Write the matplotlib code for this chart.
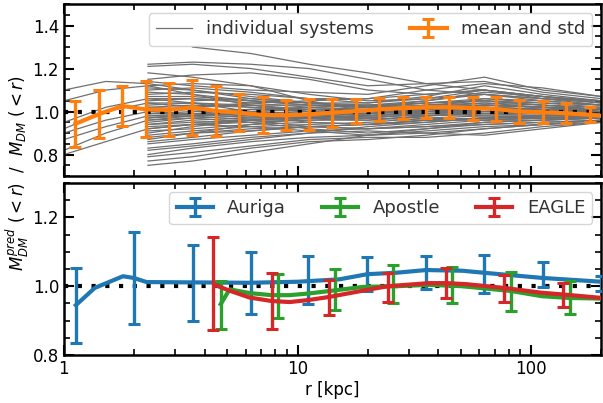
import numpy as np
import matplotlib
matplotlib.use('Agg')
import matplotlib.pyplot as plt

plt.rcParams['font.size'] = 12

nan = np.nan

# radii (kpc) where the individual profiles are sampled
r_grid = [1.0, 1.51, 2.29, 3.55, 6.31, 11.2, 20.0, 35.5, 63.1, 112.0, 200.0]

# individual systems, M_pred / M_true
systems = [
    [1.10, 1.14, 1.13, 1.10, 1.06, 1.04, 1.02, 1.05, 1.08, 1.05, 1.03],
    [1.05, 1.10, 1.12, 1.08, 1.03, 1.00, 0.99, 1.01, 1.03, 1.02, 1.00],
    [0.95, 1.02, 1.06, 1.04, 1.00, 0.97, 0.96, 0.98, 1.00, 0.99, 0.98],
    [0.92, 1.00, 1.04, 1.02, 0.98, 0.95, 0.94, 0.96, 0.97, 0.97, 0.97],
    [0.90, 0.96, 1.00, 0.99, 0.97, 0.98, 1.00, 1.03, 1.05, 1.03, 1.01],
    [0.87, 0.93, 0.98, 0.98, 0.96, 0.93, 0.92, 0.93, 0.94, 0.95, 0.96],
    [0.82, 0.90, 0.96, 0.97, 0.95, 0.92, 0.90, 0.92, 0.95, 0.96, 0.97],
    [0.80, 0.86, 0.92, 0.94, 0.93, 0.91, 0.89, 0.90, 0.92, 0.94, 0.96],
    [nan, nan, 1.22, 1.23, 1.22, 1.20, 1.15, 1.10, 1.08, 1.06, 1.04],
    [nan, nan, 1.21, 1.22, 1.20, 1.16, 1.12, 1.13, 1.14, 1.09, 1.06],
    [nan, nan, 1.15, 1.17, 1.18, 1.15, 1.10, 1.08, 1.10, 1.07, 1.04],
    [nan, nan, 1.14, 1.12, 1.10, 1.09, 1.08, 1.12, 1.16, 1.10, 1.07],
    [nan, nan, 1.12, 1.13, 1.12, 1.08, 1.05, 1.06, 1.08, 1.06, 1.05],
    [nan, nan, 1.10, 1.11, 1.09, 1.06, 1.04, 1.07, 1.12, 1.08, 1.05],
    [nan, nan, 1.08, 1.09, 1.08, 1.06, 1.06, 1.10, 1.13, 1.11, 1.07],
    [nan, nan, 1.07, 1.07, 1.05, 1.03, 1.02, 1.04, 1.06, 1.04, 1.02],
    [nan, nan, 1.05, 1.06, 1.05, 1.04, 1.03, 1.05, 1.09, 1.07, 1.04],
    [nan, nan, 1.04, 1.04, 1.02, 1.00, 0.99, 1.01, 1.03, 1.02, 1.01],
    [nan, nan, 1.02, 1.03, 1.02, 1.01, 1.02, 1.04, 1.05, 1.03, 1.02],
    [nan, nan, 1.00, 1.01, 1.00, 0.99, 0.98, 1.00, 1.02, 1.01, 1.00],
    [nan, nan, 0.99, 1.00, 1.01, 1.02, 1.03, 1.02, 1.01, 1.00, 0.99],
    [nan, nan, 0.97, 0.98, 0.99, 0.98, 0.97, 0.99, 1.00, 1.00, 0.99],
    [nan, nan, 0.95, 0.97, 0.98, 0.99, 1.00, 1.02, 1.04, 1.03, 1.01],
    [nan, nan, 0.94, 0.95, 0.96, 0.96, 0.96, 0.98, 0.99, 0.98, 0.98],
    [nan, nan, 0.92, 0.94, 0.96, 0.97, 0.98, 0.97, 0.96, 0.97, 0.98],
    [nan, nan, 0.91, 0.92, 0.94, 0.95, 0.94, 0.95, 0.97, 0.98, 0.99],
    [nan, nan, 0.89, 0.91, 0.93, 0.94, 0.95, 0.97, 0.98, 0.97, 0.97],
    [nan, nan, 0.88, 0.90, 0.92, 0.93, 0.92, 0.93, 0.95, 0.96, 0.97],
    [nan, nan, 0.86, 0.88, 0.91, 0.93, 0.94, 0.96, 0.97, 0.98, 0.98],
    [nan, nan, 0.85, 0.87, 0.89, 0.91, 0.92, 0.94, 0.96, 0.96, 0.97],
    [nan, nan, 0.83, 0.85, 0.88, 0.90, 0.91, 0.90, 0.89, 0.92, 0.95],
    [nan, nan, 0.82, 0.84, 0.87, 0.90, 0.93, 0.95, 0.97, 0.97, 0.97],
    [nan, nan, 0.80, 0.83, 0.86, 0.88, 0.89, 0.91, 0.93, 0.94, 0.96],
    [nan, nan, 0.79, 0.81, 0.84, 0.87, 0.88, 0.88, 0.90, 0.93, 0.95],
    [nan, nan, 0.77, 0.79, 0.83, 0.86, 0.87, 0.89, 0.92, 0.94, 0.95],
    [nan, nan, 0.75, 0.77, 0.81, 0.85, 0.89, 0.92, 0.94, 0.95, 0.96],
    [nan, nan, 1.18, 1.16, 1.12, 1.05, 1.00, 1.00, 1.03, 1.02, 1.01],
    [nan, nan, 1.01, 1.02, 1.04, 1.05, 1.06, 1.08, 1.10, 1.07, 1.05],
    [nan, nan, 0.98, 0.99, 0.99, 1.00, 1.01, 1.03, 1.03, 1.02, 1.01],
    [nan, nan, 0.93, 0.94, 0.95, 0.96, 0.97, 0.99, 1.01, 1.00, 1.00],
    [nan, nan, 1.03, 1.04, 1.03, 1.01, 1.00, 1.01, 1.02, 1.01, 1.00],
    [nan, nan, 1.00, 1.02, 1.03, 1.03, 1.02, 1.03, 1.04, 1.02, 1.00],
    [nan, nan, 0.96, 0.98, 1.00, 1.01, 1.01, 1.02, 1.03, 1.02, 1.01],
    [nan, nan, 0.97, 0.99, 1.01, 1.00, 0.99, 0.98, 0.99, 0.99, 0.99],
    [nan, nan, 1.06, 1.06, 1.04, 1.02, 1.01, 1.02, 1.06, 1.05, 1.03],
    [nan, nan, 0.90, 0.93, 0.96, 0.98, 0.99, 1.00, 1.01, 1.01, 1.00],
    [nan, nan, 0.87, 0.90, 0.94, 0.97, 0.98, 0.99, 0.98, 0.98, 0.99],
    [nan, nan, 1.09, 1.08, 1.05, 1.03, 1.03, 1.04, 1.05, 1.04, 1.03],
    [nan, nan, 1.11, 1.10, 1.07, 1.04, 1.04, 1.06, 1.10, 1.06, 1.03],
    [nan, nan, 0.94, 0.96, 0.97, 0.97, 0.97, 0.96, 0.96, 0.97, 0.98],
    [nan, nan, 0.99, 0.99, 0.98, 0.97, 0.98, 1.00, 1.00, 0.99, 0.98],
    [nan, nan, 1.02, 1.01, 0.99, 0.98, 0.99, 1.01, 1.02, 1.01, 1.00],
    [nan, nan, nan, 1.30, 1.27, 1.22, 1.18, 1.13, 1.10, 1.07, 1.05],
    [nan, nan, nan, 1.05, 1.06, 1.04, 1.02, 1.00, 0.99, 0.99, 0.99],
    [nan, nan, nan, 0.90, 0.91, 0.93, 0.94, 0.96, 0.97, 0.98, 0.98],
    [nan, nan, nan, 1.00, 1.01, 1.01, 1.00, 0.99, 1.00, 1.01, 1.01],
    [nan, nan, nan, 0.95, 0.96, 0.98, 0.99, 1.01, 1.02, 1.01, 1.00],
]

# mean and std over systems
r_mean = [1.12, 1.41, 1.78, 2.24, 2.82, 3.55, 4.47, 5.62, 7.08, 8.91, 11.2,
          14.1, 17.8, 22.4, 28.2, 35.5, 44.7, 56.2, 70.8, 89.1, 112, 141, 178]
mean = [0.943, 0.988, 1.026, 1.010, 1.008, 1.019, 1.003, 0.995, 0.984, 0.983,
        0.987, 0.995, 1.002, 1.010, 1.016, 1.020, 1.020, 1.016, 1.012, 1.000,
        0.997, 0.992, 0.985]
std = [0.108, 0.110, 0.095, 0.130, 0.123, 0.126, 0.118, 0.087, 0.085, 0.071,
       0.072, 0.065, 0.057, 0.053, 0.050, 0.050, 0.050, 0.053, 0.054, 0.055,
       0.051, 0.046, 0.035]
r_mean_line = r_mean + [200]
mean_line = mean + [0.980]

# simulations, median profiles
r_au = [1.125, 1.355, 1.79, 1.99, 2.26, 3.80, 6.24, 10.0, 15.1, 19.9, 26.3,
        35.5, 50.7, 63.0, 112, 200]
y_au = [0.945, 0.995, 1.029, 1.024, 1.012, 1.011, 1.010, 1.013, 1.020, 1.035,
        1.039, 1.047, 1.045, 1.039, 1.024, 1.013]
r_ap = [4.69, 5.12, 6.24, 7.74, 9.25, 11.2, 13.7, 19.0, 26.5, 36.6, 50.7,
        82.2, 111, 145, 200]
y_ap = [0.948, 0.991, 0.980, 0.974, 0.974, 0.979, 0.986, 0.998, 1.000, 1.004,
        1.000, 0.986, 0.971, 0.966, 0.964]
r_ea = [4.42, 5.12, 6.24, 7.74, 9.25, 11.2, 13.7, 19.0, 24.3, 36.6, 43.4,
        52.7, 76.7, 111, 137, 200]
y_ea = [1.004, 0.987, 0.967, 0.957, 0.954, 0.960, 0.969, 0.987, 1.000, 1.009,
        1.009, 1.006, 0.995, 0.981, 0.976, 0.966]

# error bars of the simulations
re_au = [1.125, 1.99, 3.56, 6.30, 11.1, 19.9, 35.6, 63.0, 112, 200]
me_au = [0.945, 1.024, 1.010, 1.010, 1.017, 1.035, 1.040, 1.036, 1.034, 1.008]
se_au = [0.109, 0.134, 0.110, 0.090, 0.070, 0.050, 0.049, 0.056, 0.036, 0.022]
re_ap = [4.69, 8.22, 14.5, 25.7, 45.9, 82.2, 147]
me_ap = [0.945, 0.972, 0.990, 1.006, 1.003, 0.985, 0.967]
se_ap = [0.070, 0.064, 0.060, 0.056, 0.053, 0.057, 0.049]
re_ea = [4.34, 7.74, 13.7, 24.3, 43.4, 76.7, 137]
me_ea = [1.008, 0.957, 0.967, 0.996, 1.010, 0.993, 0.975]
se_ea = [0.135, 0.082, 0.052, 0.042, 0.044, 0.039, 0.035]

fig, (ax1, ax2) = plt.subplots(2, 1, figsize=(6.03, 4.03), dpi=100, sharex=True)
fig.subplots_adjust(left=0.106, right=0.9975, top=0.99, bottom=0.119, hspace=0.04)

ebkw = dict(capsize=4, capthick=2.2, elinewidth=2.4)

# top panel
for i, s in enumerate(systems):
    ax1.plot(r_grid, s, color='#707070', lw=0.9,
             label='individual systems' if i == 0 else None)
ax1.plot([1, 200], [1, 1], color='k', lw=3, dashes=(1, 2.3), zorder=4)
ax1.plot(r_mean_line, mean_line, color='C1', lw=3, zorder=5)
ax1.errorbar(r_mean, mean, yerr=std, fmt='none', ecolor='C1', zorder=5, **ebkw)
ax1.errorbar([nan], [nan], yerr=[nan], color='C1', lw=3, label='mean and std', **ebkw)
ax1.set_ylim(0.7, 1.5)
ax1.set_yticks([0.8, 1.0, 1.2, 1.4])
ax1.legend(loc='upper right', ncol=2, labelcolor='#333333', fontsize=13)

# bottom panel
ax2.plot([1, 200], [1, 1], color='k', lw=3, dashes=(1, 2.3), zorder=4)
for r, y, re, me, se, c, lab in [(r_au, y_au, re_au, me_au, se_au, 'C0', 'Auriga'),
                                 (r_ap, y_ap, re_ap, me_ap, se_ap, 'C2', 'Apostle'),
                                 (r_ea, y_ea, re_ea, me_ea, se_ea, 'C3', 'EAGLE')]:
    ax2.plot(r, y, color=c, lw=3, zorder=5)
    ax2.errorbar(re, me, yerr=se, fmt='none', ecolor=c, zorder=5, **ebkw)
    ax2.errorbar([nan], [nan], yerr=[nan], color=c, lw=3, label=lab, **ebkw)
ax2.set_ylim(0.8, 1.3)
ax2.set_yticks([0.8, 1.0, 1.2])
ax2.legend(loc='upper right', ncol=3, labelcolor='#333333', fontsize=13)

ax2.set_xscale('log')
ax2.set_xlim(1, 200)
ax2.set_xticks([1, 10, 100])
ax2.set_xticklabels(['1', '10', '100'])
ax2.set_xlabel('r [kpc]', labelpad=2)

for ax in (ax1, ax2):
    ax.yaxis.set_minor_locator(plt.MultipleLocator(0.05))
    ax.tick_params(which='both', direction='in', top=True, right=True)
    ax.tick_params(which='major', length=7.5, width=1.5, labelsize=12)
    ax.tick_params(which='minor', length=4, width=1.2)
    for sp in ax.spines.values():
        sp.set_linewidth(1.8)

fig.text(0.03, 0.57, r'$M_{DM}^{pred}\ (<r)$  /  $M_{DM}\ (<r)$',
         rotation=90, ha='center', va='center', fontsize=12)

fig.savefig('out.png', dpi=100)
